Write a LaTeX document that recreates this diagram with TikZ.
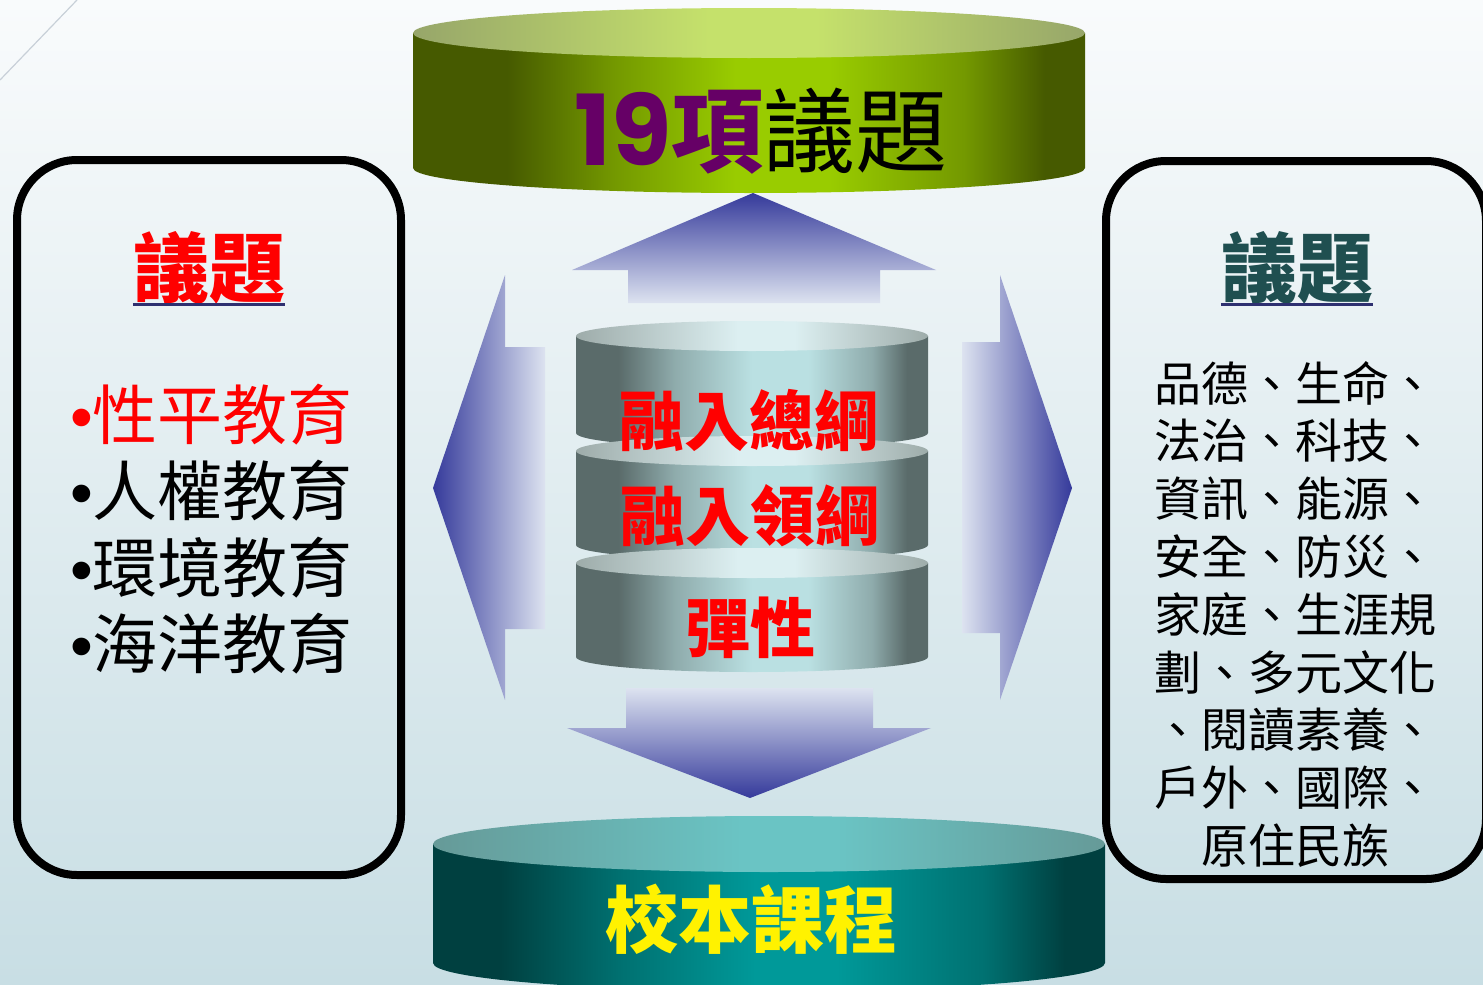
\documentclass[tikz,border=0pt]{standalone}
\usepackage{fontspec}
\newfontfamily\cjk{Noto Sans CJK TC}
\newfontfamily\pop{Poppins}
\newfontfamily\lib{Liberation Sans}
\definecolor{bgT}{HTML}{F9FBFC}
\definecolor{bgB}{HTML}{C8DEE4}
\definecolor{gE}{HTML}{465A00}
\definecolor{gM}{HTML}{99CC00}
\colorlet{gX}{gE!45!gM}
\definecolor{gtE}{HTML}{97A66A}
\definecolor{gtM}{HTML}{C5E16B}
\definecolor{sE}{HTML}{5A6B6A}
\definecolor{sM}{HTML}{BAE0E2}
\colorlet{sX}{sE!45!sM}
\definecolor{stE}{HTML}{9EACAA}
\definecolor{stM}{HTML}{DCEFF1}
\definecolor{tE}{HTML}{004040}
\definecolor{tM}{HTML}{009999}
\colorlet{tX}{tE!45!tM}
\definecolor{ttE}{HTML}{669A98}
\definecolor{ttM}{HTML}{6AC4C4}
\definecolor{arD}{HTML}{353A9B}
\definecolor{arP}{HTML}{DDE3F0}
\definecolor{purp}{HTML}{660066}
\definecolor{slate}{HTML}{1F4F50}
\definecolor{ulblue}{HTML}{2E3070}
\definecolor{diagc}{HTML}{C8D0D8}
\pgfdeclarehorizontalshading{gside}{100bp}{color(0bp)=(gE); color(25bp)=(gE); color(32bp)=(gE); color(40bp)=(gX); color(49bp)=(gM); color(56bp)=(gM); color(66bp)=(gX); color(72bp)=(gE); color(75bp)=(gE); color(100bp)=(gE)}
\pgfdeclarehorizontalshading{gtop}{100bp}{color(0bp)=(gtE); color(25bp)=(gtE); color(47bp)=(gtM); color(55bp)=(gtM); color(75bp)=(gtE); color(100bp)=(gtE)}
\pgfdeclarehorizontalshading{sside}{100bp}{color(0bp)=(sE); color(25bp)=(sE); color(31bp)=(sE); color(39bp)=(sX); color(50bp)=(sM); color(58bp)=(sM); color(67bp)=(sX); color(72bp)=(sE); color(75bp)=(sE); color(100bp)=(sE)}
\pgfdeclarehorizontalshading{stop}{100bp}{color(0bp)=(stE); color(25bp)=(stE); color(48bp)=(stM); color(56bp)=(stM); color(75bp)=(stE); color(100bp)=(stE)}
\pgfdeclarehorizontalshading{tside}{100bp}{color(0bp)=(tE); color(25bp)=(tE); color(30bp)=(tE); color(39bp)=(tX); color(49bp)=(tM); color(55bp)=(tM); color(66bp)=(tX); color(72bp)=(tE); color(75bp)=(tE); color(100bp)=(tE)}
\pgfdeclarehorizontalshading{ttop}{100bp}{color(0bp)=(ttE); color(25bp)=(ttE); color(48bp)=(ttM); color(55bp)=(ttM); color(75bp)=(ttE); color(100bp)=(ttE)}
\newcommand\mycyl[7]{%
  \shade[shading=#6] ({#1-#4},#2) -- ({#1-#4},#3) arc[start angle=180,end angle=360,x radius=#4pt,y radius=#5pt] -- ({#1+#4},#2) -- cycle;
  \shade[shading=#7] (#1,#2) ellipse[x radius=#4pt,y radius=#5pt];
}
\tikzset{
  boxline/.style={draw=black,line width=8pt,rounded corners=60pt},
  txt/.style={inner sep=0pt,anchor=base},
  uline/.style={draw=ulblue,line width=3pt},
  diag/.style={draw=diagc,line width=1.2pt},
}
\begin{document}
\begin{tikzpicture}[x=1pt,y=-1pt]
\useasboundingbox (0,0) rectangle (1483,985);
\clip (0,0) rectangle (1483,985);
\shade[top color=bgT,bottom color=bgB] (0,0) rectangle (1483,985);
\draw[diag] (0,80) -- (77,0);
% side boxes
\draw[boxline] (17,160) rectangle (401,875);
\draw[boxline] (1106,161) rectangle (1486,879);
% top cylinder
\mycyl{749}{33}{168}{336}{25}{gside}{gtop}
% arrows
\shade[top color=arD,bottom color=arP] (753,193) -- (936,270) -- (880,270) -- (880,303) -- (628,303) -- (628,270) -- (572,270) -- cycle;
\shade[top color=arP,bottom color=arD] (626,688) -- (873,688) -- (873,728) -- (931,728) -- (750,798) -- (567,728) -- (626,728) -- cycle;
\shade[left color=arD,right color=arP] (433,488) -- (505,275) -- (505,347) -- (545,347) -- (545,629) -- (505,629) -- (505,700) -- cycle;
\shade[left color=arP,right color=arD] (1072,488) -- (1000,275) -- (1000,342) -- (962,342) -- (962,633) -- (1000,633) -- (1000,700) -- cycle;
% middle cylinders
\mycyl{752}{336}{433}{176}{15}{sside}{stop}
\mycyl{752}{451}{545}{176}{15}{sside}{stop}
\mycyl{752}{563}{657}{176}{15}{sside}{stop}
% bottom cylinder
\mycyl{769}{844}{963}{336}{28}{tside}{ttop}
% texts
\node[txt] (ttl) at (761,165) {{\fontsize{98}{98}\pop\bfseries\color{purp}19}{\fontsize{92}{92}\cjk\bfseries\color{purp}項}{\fontsize{92}{92}\cjk\color{black}議題}};
\node[txt,text=red] (m1) at (749,445) {\fontsize{65}{65}\cjk\bfseries 融入總綱};
\node[txt,text=red] (m2) at (750,540) {\fontsize{65}{65}\cjk\bfseries 融入領綱};
\node[txt,text=red] (m3) at (750,652) {\fontsize{65}{65}\cjk\bfseries 彈性};
\node[txt,text=yellow] (sch) at (751,947) {\fontsize{73}{73}\cjk\bfseries 校本課程};
% left box
\node[txt,text=red] (lt) at (209,296) {\fontsize{76}{76}\cjk\bfseries 議題};
\draw[uline] ([yshift=-8pt]lt.base west) -- ([yshift=-8pt]lt.base east);
\node[txt,anchor=base west,text=red] (l1) at (70,439) {\fontsize{65}{65}\lib •\cjk 性平教育};
\node[txt,anchor=base west] (l2) at (70,515) {\fontsize{65}{65}\lib •\cjk 人權教育};
\node[txt,anchor=base west] (l3) at (70,592) {\fontsize{65}{65}\lib •\cjk 環境教育};
\node[txt,anchor=base west] (l4) at (70,668) {\fontsize{65}{65}\lib •\cjk 海洋教育};
% right box
\node[txt,text=slate] (rt) at (1297,296) {\fontsize{76}{76}\cjk\bfseries 議題};
\draw[uline] ([yshift=-8pt]rt.base west) -- ([yshift=-8pt]rt.base east);
\foreach \t [count=\i] in {品德、生命、,法治、科技、,資訊、能源、,安全、防災、,家庭、生涯規,劃、多元文化,、閱讀素養、,戶外、國際、,原住民族}{
  \node[txt] (r\i) at (1295,{383+(\i-1)*57.8+18}) {\fontsize{47}{47}\cjk \t};
}
\end{tikzpicture}
\end{document}
